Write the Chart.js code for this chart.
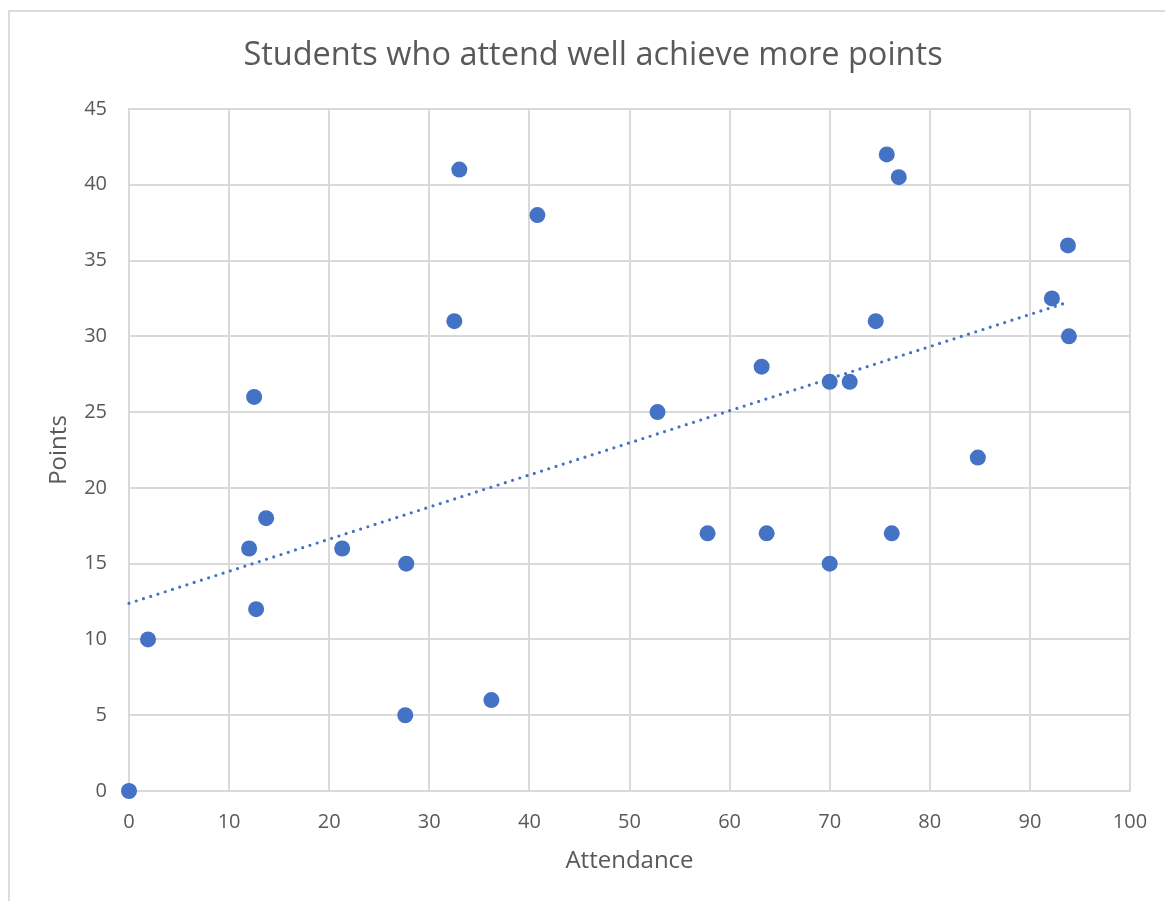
<!DOCTYPE html>
<html>
<head>
<meta charset="utf-8">
<script src="https://cdn.jsdelivr.net/npm/chart.js@4/dist/chart.umd.min.js"></script>
<style>
  html, body { margin: 0; padding: 0; background: #fff; overflow: hidden; }
  #wrap { position: relative; width: 1165px; height: 901px; }
  #frame { position: absolute; left: 8px; top: 10px; width: 1200px; height: 950px;
           border-left: 2px solid #dcdcdc; border-top: 2px solid #dcdcdc; }
  canvas { position: absolute; left: 0; top: 0; }
</style>
</head>
<body>
<div id="wrap">
  <div id="frame"></div>
  <canvas id="chart" width="1165" height="901"></canvas>
</div>
<script>
// Attendance (%) and points for each student
const attendance = [0, 1.9, 12.0, 12.5, 12.7, 13.7, 21.3, 27.7, 27.6, 32.5, 33.0, 36.2, 40.8, 52.8,
                    57.8, 63.2, 63.7, 70.0, 70.0, 72.0, 74.6, 75.7, 76.2, 76.9, 84.8, 92.2, 93.8, 93.9];
const points     = [0, 10, 16, 26, 12, 18, 16, 15, 5, 31, 41, 6, 38, 25,
                    17, 28, 17, 27, 15, 27, 31, 42, 17, 40.5, 22, 32.5, 36, 30];

const xTicks = { min: 0, max: 100, step: 10 };
const yTicks = { min: 0, max: 45, step: 5 };

const chartTitle = 'Students who attend well achieve more points';
const xTitle = 'Attendance';
const yTitle = 'Points';

// Least-squares linear trendline across the observed attendance range
function linearTrend(xs, ys) {
  const n = xs.length;
  const mx = xs.reduce((a, b) => a + b, 0) / n;
  const my = ys.reduce((a, b) => a + b, 0) / n;
  let sxy = 0, sxx = 0;
  for (let i = 0; i < n; i++) {
    sxy += (xs[i] - mx) * (ys[i] - my);
    sxx += (xs[i] - mx) * (xs[i] - mx);
  }
  const slope = sxy / sxx;
  const icpt = my - slope * mx;
  const x0 = Math.min(...xs), x1 = Math.max(...xs);
  return [{ x: x0, y: icpt + slope * x0 }, { x: x1, y: icpt + slope * x1 }];
}

const scatterData = attendance.map((x, i) => ({ x, y: points[i] }));
const trendData = linearTrend(attendance, points);

const BLUE = '#4472C4';
const TEXT = '#595959';
const GRID = '#d9d9d9';
const FONT = '"Open Sans", Lato, sans-serif';

new Chart(document.getElementById('chart'), {
  type: 'scatter',
  data: {
    datasets: [
      {
        label: 'Trend',
        type: 'line',
        data: trendData,
        borderColor: BLUE,
        borderWidth: 3.2,
        borderDash: [0, 7.6],
        borderCapStyle: 'round',
        pointRadius: 0,
        fill: false,
        clip: false,
        order: 0
      },
      {
        label: 'Students',
        data: scatterData,
        backgroundColor: BLUE,
        borderColor: BLUE,
        borderWidth: 0,
        pointRadius: 8,
        pointHoverRadius: 8,
        clip: false,
        order: 1
      }
    ]
  },
  options: {
    responsive: false,
    animation: false,
    layout: { padding: { left: 21, right: 0, top: 30, bottom: 0 } },
    plugins: {
      legend: { display: false },
      tooltip: { enabled: false },
      title: {
        display: true,
        text: chartTitle,
        color: TEXT,
        font: { family: FONT, size: 32.5, weight: 'normal', lineHeight: 1.2 },
        padding: { top: 6, bottom: 34 }
      }
    },
    scales: {
      x: {
        type: 'linear',
        min: xTicks.min,
        max: xTicks.max,
        ticks: {
          stepSize: xTicks.step,
          color: TEXT,
          font: { family: FONT, size: 20 },
          padding: 19,
          maxRotation: 0
        },
        grid: { color: GRID, lineWidth: 2, drawTicks: false },
        border: { color: GRID, width: 2 },
        title: {
          display: true,
          text: xTitle,
          color: TEXT,
          font: { family: FONT, size: 24 },
          padding: { top: 0, bottom: 25.6 }
        },
        afterFit(scale) {
          scale.height = 110;
          scale.paddingRight = 35;
        }
      },
      y: {
        type: 'linear',
        min: yTicks.min,
        max: yTicks.max,
        ticks: {
          stepSize: yTicks.step,
          color: TEXT,
          font: { family: FONT, size: 20 },
          padding: 22
        },
        grid: { color: GRID, lineWidth: 2, drawTicks: false },
        border: { color: GRID, width: 2 },
        title: {
          display: true,
          text: yTitle,
          color: TEXT,
          font: { family: FONT, size: 24 },
          padding: { top: 23.6, bottom: 0 }
        },
        afterFit(scale) {
          scale.width = 108;
        }
      }
    }
  }
});
</script>
</body>
</html>
